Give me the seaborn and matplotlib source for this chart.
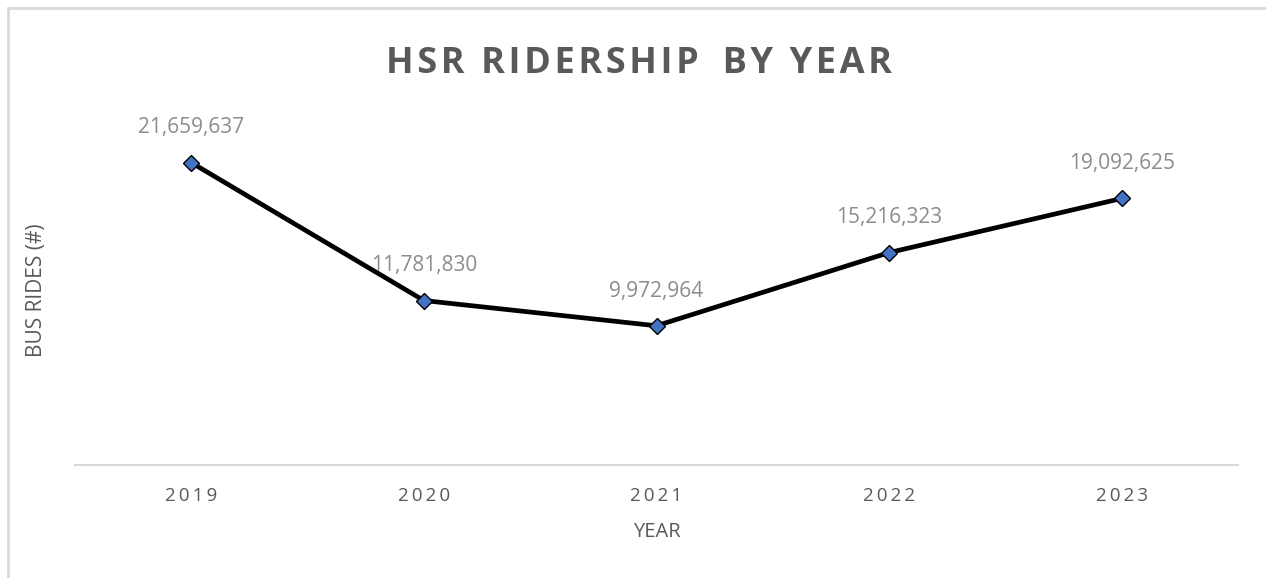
import matplotlib
matplotlib.use("Agg")
import matplotlib.pyplot as plt
import seaborn as sns
import pandas as pd
from matplotlib.patches import Rectangle

years = ["2019", "2020", "2021", "2022", "2023"]
rides = [21659637, 11781830, 9972964, 15216323, 19092625]
title = "HSR RIDERSHIP BY YEAR"
xlabel = "YEAR"
ylabel = "BUS RIDES (#)"

df = pd.DataFrame({"year": years, "rides": rides})

sns.set_style("white")
plt.rcParams['font.family'] = ['Open Sans', 'DejaVu Sans']

fig = plt.figure(figsize=(12.66, 5.78), dpi=100)
ax = fig.add_axes([75/1266, (578-465)/578, (1238-75)/1266, (465-116)/578])

sns.lineplot(data=df, x="year", y="rides", ax=ax, color="black", linewidth=3.4,
             marker="D", markersize=8.5, markerfacecolor="#4472C4",
             markeredgecolor="black", markeredgewidth=1.0, sort=False)

ax.set_xlim(-0.5, 4.5)
ax.set_ylim(0, 25000000)
ax.set_yticks([])
for s in ["top", "right", "left"]:
    ax.spines[s].set_visible(False)
ax.spines["bottom"].set_color("#d9d9d9")
ax.spines["bottom"].set_linewidth(1.5)

ax.set_xticks(range(len(years)))
ax.set_xticklabels(["\u2009".join(y) for y in years], fontsize=13.5, color="#595959")
ax.tick_params(axis="x", length=0, pad=16)

ax.set_xlabel(xlabel, fontsize=14.5, color="#595959", labelpad=12)
ax.set_ylabel(ylabel, fontsize=15, color="#595959", labelpad=20)

for i, v in enumerate(rides):
    ax.annotate(f"{v:,}", (i, v), xytext=(0, 25), textcoords="offset points",
                ha="center", va="center", fontsize=15, color="#8c8c8c")

spaced_title = "\u200a".join(title).replace("P\u200a \u200aB", "P\u200a\u200a \u200a\u200aB")
fig.text(639/1266, 1 - 64/578, spaced_title,
         ha="center", va="center", fontsize=26, fontweight="bold", color="#595959")

fig.patches.append(Rectangle((8/1266, -0.1), 1.2, 1 - 8/578 + 0.1, transform=fig.transFigure,
                             fill=False, edgecolor="#d9d9d9", linewidth=2))

fig.savefig("out.png", dpi=100)
